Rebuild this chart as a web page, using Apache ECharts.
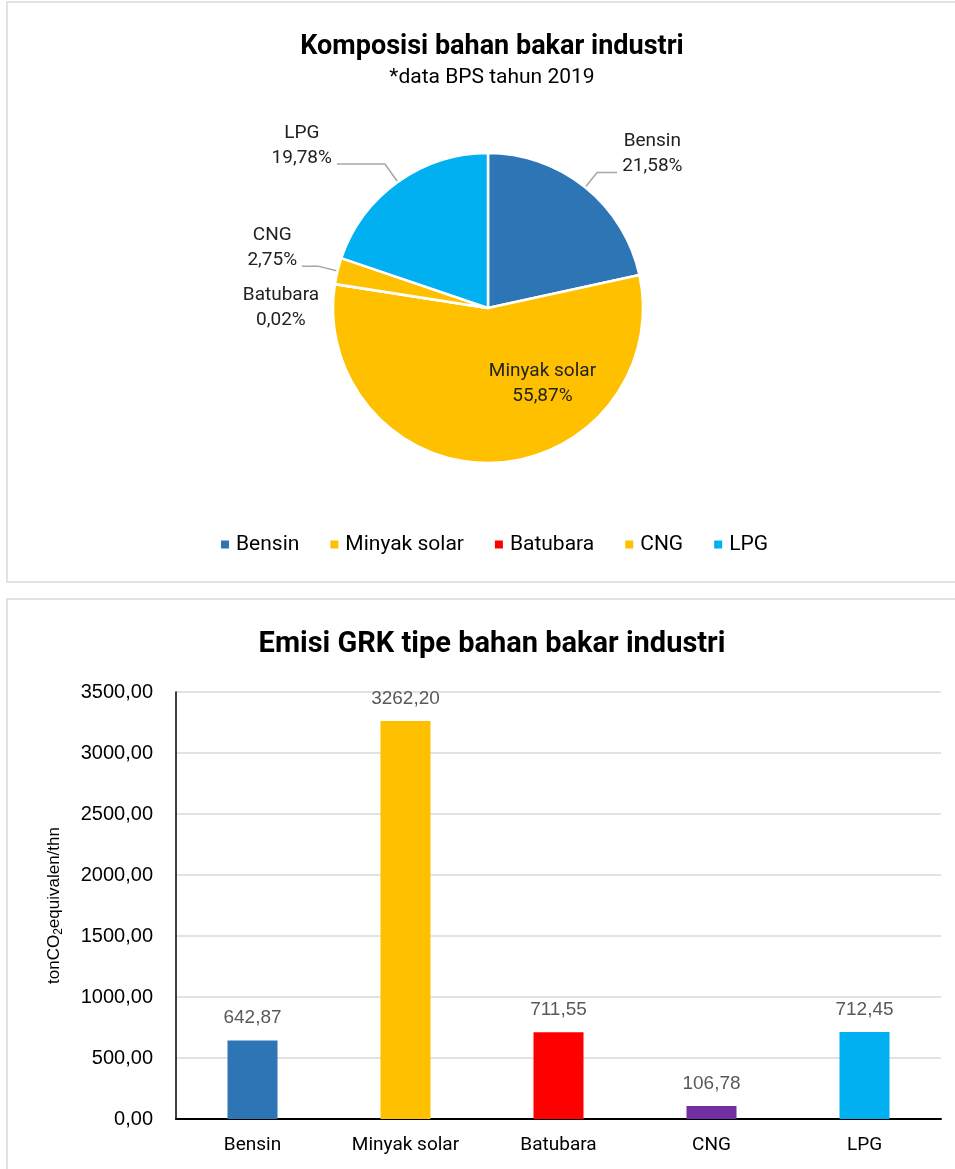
<!DOCTYPE html>
<html><head><meta charset="utf-8">
<script src="https://cdn.jsdelivr.net/npm/echarts@6/dist/echarts.min.js"></script>
<style>html,body{margin:0;padding:0;background:#fff;overflow:hidden}#c{width:955px;height:1169px}</style>
</head><body><div id="c"></div>
<script>
const categories = ['Bensin', 'Minyak solar', 'Batubara', 'CNG', 'LPG'];
const sharePercent = [21.58, 55.87, 0.02, 2.75, 19.78];
const emission = [642.87, 3262.20, 711.55, 106.78, 712.45];
const pieColors = ['#2E75B6', '#FFC000', '#FF0000', '#FFC000', '#00B0F0'];
const barColors = ['#2E75B6', '#FFC000', '#FF0000', '#7030A0', '#00B0F0'];
const yMin = 0, yMax = 3500, yStep = 500;
const fmt = v => v.toFixed(2).replace('.', ',');
const FONT = 'Roboto';
const ARIAL = 'Liberation Sans';
const INSIDE = 'Minyak solar';
const NO_LINE = 'Batubara';

const chart = echarts.init(document.getElementById('c'), null, {renderer: 'canvas'});
const pieData = categories.map((n, i) => {
  const d = {name: n, value: sharePercent[i], itemStyle: {color: pieColors[i]}};
  if (n === INSIDE) d.label = {position: 'inside', offset: [52, -5]};
  if (n === NO_LINE) d.labelLine = {show: false, length: 19, length2: 6};
  if (n === 'LPG') d.labelLine = {length: 22, length2: 48};
  if (n === 'CNG') d.labelLine = {length: 20, length2: 16};
  return d;
});
chart.setOption({
  animation: false,
  textStyle: {fontFamily: FONT},
  graphic: [
    {type: 'rect', shape: {x: 7, y: 2, width: 960, height: 580}, style: {fill: 'none', stroke: '#d9d9d9', lineWidth: 1.5}, silent: true},
    {type: 'rect', shape: {x: 7, y: 599, width: 960, height: 600}, style: {fill: 'none', stroke: '#d9d9d9', lineWidth: 1.5}, silent: true}
  ],
  title: [
    {text: 'Komposisi bahan bakar industri', subtext: '*data BPS tahun 2019', left: 487, top: 29, textAlign: 'center', itemGap: 6,
     textStyle: {fontFamily: FONT, fontSize: 27, fontWeight: 'bold', color: '#000'},
     subtextStyle: {fontFamily: FONT, fontSize: 21, color: '#000'}},
    {text: 'Emisi GRK tipe bahan bakar industri', left: 487, top: 625, textAlign: 'center',
     textStyle: {fontFamily: FONT, fontSize: 29, fontWeight: 'bold', color: '#000'}}
  ],
  legend: {
    data: categories, left: 214, top: 529, icon: 'rect', itemWidth: 10, itemHeight: 10, itemGap: 29,
    textStyle: {fontFamily: FONT, fontSize: 21, color: '#000', padding: [0, 0, 0, 1]}
  },
  grid: {left: 176, right: 14, top: 692, bottom: 50},
  xAxis: {
    type: 'category', data: categories,
    axisLine: {lineStyle: {color: '#000', width: 2}}, axisTick: {show: false},
    axisLabel: {fontFamily: FONT, fontSize: 19, color: '#000', margin: 17}
  },
  yAxis: {
    type: 'value', min: yMin, max: yMax, interval: yStep,
    axisLine: {show: true, lineStyle: {color: '#000', width: 1.5}},
    splitLine: {lineStyle: {color: '#d9d9d9', width: 1.5}},
    axisLabel: {fontFamily: ARIAL, fontSize: 20, color: '#000', margin: 23, formatter: v => fmt(v)},
    name: '{a|tonCO}{s|2}{a|equivalen/thn}', nameLocation: 'middle', nameRotate: 90, nameGap: 111,
    nameTextStyle: {rich: {a: {fontFamily: ARIAL, fontSize: 17, color: '#000'}, s: {fontFamily: ARIAL, fontSize: 12, color: '#000', padding: [9, 0, 0, 0]}}}
  },
  series: [
    {
      type: 'pie', center: [488, 308], radius: 155, startAngle: 90, clockwise: true,
      avoidLabelOverlap: false,
      itemStyle: {borderColor: '#fff', borderWidth: 2.5},
      label: {
        formatter: p => {
          const body = '{t|' + p.name + '}\n{t|' + fmt(p.value) + '%}';
          if (p.name === INSIDE || p.name === NO_LINE) return body;
          return body + '\n{bot| }';
        },
        rich: {
          t: {fontFamily: FONT, fontSize: 19, color: '#222', lineHeight: 25, align: 'center'},
          bot: {fontSize: 1, lineHeight: 37}
        }
      },
      labelLayout: p => (categories[p.dataIndex] === NO_LINE ? {dx: 14, dy: 27, hideOverlap: false} : {hideOverlap: false}),
      labelLine: {length: 19, length2: 20, lineStyle: {color: '#a6a6a6', width: 1.5}},
      data: pieData
    },
    {
      type: 'bar', barWidth: 50, xAxisIndex: 0, yAxisIndex: 0,
      data: emission.map((v, i) => ({value: v, itemStyle: {color: barColors[i]}})),
      label: {show: true, position: 'top', distance: 13, fontFamily: ARIAL, fontSize: 19, color: '#595959', formatter: p => fmt(p.value)}
    }
  ]
});
</script></body></html>
